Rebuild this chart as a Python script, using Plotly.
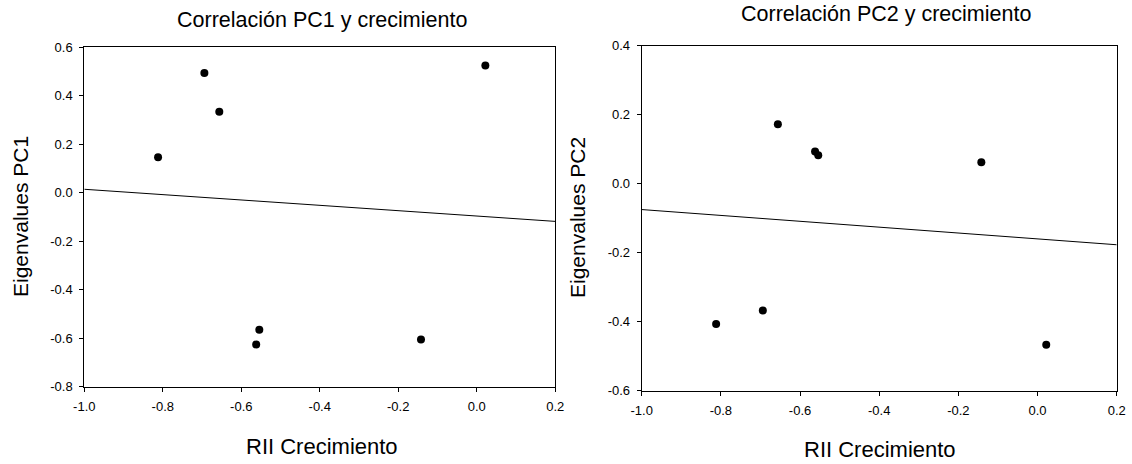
import numpy as np
import plotly.graph_objects as go

# Data
rii_crecimiento = [-0.812, -0.694, -0.656, -0.562, -0.554, -0.142, 0.022]
pc1_values = [0.146, 0.494, 0.334, -0.626, -0.565, -0.605, 0.525]
pc2_values = [-0.407, -0.368, 0.172, 0.093, 0.082, 0.062, -0.467]

x_range = [-1.0, 0.2]
x_ticks = [-1.0, -0.8, -0.6, -0.4, -0.2, 0.0, 0.2]
x_ticklabels = ["-1.0", "-0.8", "-0.6", "-0.4", "-0.2", "0.0", "0.2"]
pc1_range = [-0.8, 0.6]
pc1_ticks = [-0.8, -0.6, -0.4, -0.2, 0.0, 0.2, 0.4, 0.6]
pc1_ticklabels = ["-0.8", "-0.6", "-0.4", "-0.2", "0.0", "0.2", "0.4", "0.6"]
pc2_range = [-0.6, 0.4]
pc2_ticks = [-0.6, -0.4, -0.2, 0.0, 0.2, 0.4]
pc2_ticklabels = ["-0.6", "-0.4", "-0.2", "0.0", "0.2", "0.4"]

titles = ["Correlación PC1 y crecimiento", "Correlación PC2 y crecimiento"]
x_title = "RII Crecimiento"
y_titles = ["Eigenvalues PC1", "Eigenvalues PC2"]

W, H = 1132, 464
FONT = "Liberation Sans, Arial, sans-serif"

def fit_line(x, y):
    slope, intercept = np.polyfit(x, y, 1)
    xs = np.array(x_range)
    return xs, slope * xs + intercept

fig = go.Figure()

for i, (yvals, xa, ya) in enumerate([(pc1_values, "x", "y"), (pc2_values, "x2", "y2")]):
    lx, ly = fit_line(rii_crecimiento, yvals)
    fig.add_trace(go.Scatter(x=lx, y=ly, mode="lines", xaxis=xa, yaxis=ya,
                             line=dict(color="black", width=1), showlegend=False,
                             hoverinfo="skip"))
    fig.add_trace(go.Scatter(x=rii_crecimiento, y=yvals, mode="markers", xaxis=xa, yaxis=ya,
                             marker=dict(color="black", size=8), showlegend=False))

def px_x(p):
    return p / W

def px_y(p):
    return 1 - p / H

axis_common = dict(showline=True, mirror=True, linecolor="black", linewidth=1,
                   ticks="outside", ticklen=4, tickwidth=1, tickcolor="black",
                   showgrid=False, zeroline=False, automargin=False,
                   tickfont=dict(family=FONT, size=13, color="black"))

fig.update_layout(
    template="none",
    width=W, height=H,
    margin=dict(l=0, r=0, t=0, b=0, pad=0, autoexpand=False),
    paper_bgcolor="white", plot_bgcolor="white",
    font=dict(family=FONT, color="black"),
    xaxis=dict(domain=[px_x(84.3), px_x(555.2)], range=x_range, tickvals=x_ticks,
               ticktext=x_ticklabels, anchor="y", ticklabelstandoff=4, **axis_common),
    yaxis=dict(domain=[px_y(386.7), px_y(47.3)], range=pc1_range, tickvals=pc1_ticks,
               ticktext=pc1_ticklabels, anchor="x", ticklabelstandoff=4, **axis_common),
    xaxis2=dict(domain=[px_x(641.7), px_x(1116.7)], range=x_range, tickvals=x_ticks,
                ticktext=x_ticklabels, anchor="y2", ticklabelstandoff=4, **axis_common),
    yaxis2=dict(domain=[px_y(390.5), px_y(45.7)], range=pc2_range, tickvals=pc2_ticks,
                ticktext=pc2_ticklabels, anchor="x2", ticklabelstandoff=4, **axis_common),
)

annotations = [
    dict(text=titles[0], x=px_x(322), y=px_y(20), font=dict(size=21.5)),
    dict(text=titles[1], x=px_x(886), y=px_y(14), font=dict(size=21.5)),
    dict(text=x_title, x=px_x(322), y=px_y(446), font=dict(size=22)),
    dict(text=x_title, x=px_x(880), y=px_y(449), font=dict(size=22)),
    dict(text=y_titles[0], x=px_x(20), y=px_y(217), font=dict(size=21), textangle=-90),
    dict(text=y_titles[1], x=px_x(577), y=px_y(218), font=dict(size=21), textangle=-90),
]
for a in annotations:
    a.update(xref="paper", yref="paper", showarrow=False, xanchor="center", yanchor="middle")
    a["font"].update(family=FONT, color="black")
fig.update_layout(annotations=annotations)

fig.write_html("out.html", config={"displayModeBar": False},
               post_script="document.body.style.margin='0';document.body.style.overflow='hidden';")
